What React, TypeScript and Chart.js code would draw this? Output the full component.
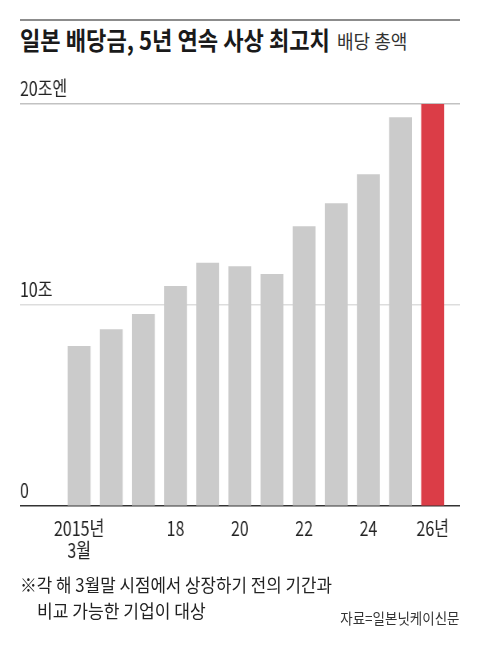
import React, { useEffect, useRef } from 'react';
import { Chart, registerables } from 'chart.js';

Chart.register(...registerables);

// ---- data ----
const years = ['2015', '2016', '2017', '2018', '2019', '2020', '2021', '2022', '2023', '2024', '2025', '2026'];
const dividends = [7.95, 8.78, 9.53, 10.93, 12.09, 11.91, 11.53, 13.9, 15.04, 16.49, 19.32, 20.0];
const xTickLabels: (string | string[])[] = [['2015년', '3월'], '', '', '18', '', '20', '', '22', '', '24', '', '26년'];
const yTickValues = [0, 10, 20];
const yTickLabels = ['0', '10조', '20조엔'];
const highlightYear = '2026';

const FONT = "'Noto Sans CJK KR', sans-serif";
const SX = 0.8;

export default function App() {
  const ref = useRef<HTMLCanvasElement>(null);

  useEffect(() => {
    const chart = new Chart(ref.current as HTMLCanvasElement, {
      type: 'bar',
      data: {
        datasets: [
          {
            data: years.map((_, i) => ({ x: i, y: dividends[i] })),
            backgroundColor: years.map((y) => (y === highlightYear ? '#db3d47' : '#cbcbcb')),
            barThickness: 28,
          } as any,
        ],
      },
      options: {
        animation: false,
        responsive: true,
        maintainAspectRatio: false,
        layout: { padding: { top: 44, bottom: 8, left: 0, right: 0 } },
        plugins: { legend: { display: false }, tooltip: { enabled: false } },
        scales: {
          x: {
            type: 'linear',
            min: -1.84,
            max: 11.85,
            offset: false,
            z: 1,
            grid: { display: false, drawTicks: false },
            border: { display: true, color: '#333333', width: 1.5 },
            afterBuildTicks: (s: any) => {
              s.ticks = years.map((_, i) => ({ value: i }));
            },
            ticks: {
              autoSkip: false,
              maxRotation: 0,
              padding: 11,
              color: '#222222',
              font: { family: FONT, size: 20, lineHeight: 1.1 },
              callback: (v: any) => xTickLabels[v as number] ?? '',
            },
          },
          y: {
            min: 0,
            max: 20,
            afterBuildTicks: (s: any) => {
              s.ticks = yTickValues.map((v) => ({ value: v }));
            },
            grid: {
              drawTicks: false,
              lineWidth: 1.5,
              color: (ctx: any) =>
                ctx.tick.value === 20 ? '#c2c2c2' : ctx.tick.value === 10 ? '#dddddd' : 'rgba(0,0,0,0)',
            },
            border: { display: false },
            ticks: {
              mirror: true,
              padding: 0,
              labelOffset: -16,
              color: '#222222',
              font: { family: FONT, size: 20 },
              callback: (v: any) => yTickLabels[yTickValues.indexOf(v as number)] ?? '',
            },
          },
        },
      } as any,
    });
    return () => chart.destroy();
  }, []);

  const base: React.CSSProperties = {
    position: 'absolute',
    fontFamily: FONT,
    whiteSpace: 'nowrap',
    margin: 0,
  };

  return (
    <div style={{ position: 'absolute', left: 0, top: 0, width: 480, height: 653, background: '#fff', overflow: 'hidden' }}>
      <div style={{ position: 'absolute', left: 20, top: 19, width: 440, height: 2, background: '#8c8c8c' }} />
      <div
        style={{
          ...base,
          left: 20,
          top: 27,
          fontSize: 25,
          lineHeight: '25px',
          fontWeight: 700,
          color: '#1a1a1a',
          transform: 'scaleX(0.885)',
          transformOrigin: '0 0',
        }}
      >
        일본 배당금, 5년 연속 사상 최고치
      </div>
      <div
        style={{
          ...base,
          left: 337,
          top: 31,
          fontSize: 19,
          lineHeight: '19px',
          color: '#333',
          transform: 'scaleX(0.95)',
          transformOrigin: '0 0',
        }}
      >
        배당 총액
      </div>
      <div
        style={{
          position: 'absolute',
          left: 20,
          top: 60,
          width: 550,
          height: 520,
          transform: `scaleX(${SX})`,
          transformOrigin: '0 0',
        }}
      >
        <canvas ref={ref} />
      </div>
      <div
        style={{
          ...base,
          left: 20,
          top: 575,
          fontSize: 18,
          lineHeight: '18px',
          color: '#222',
          transform: 'scaleX(0.935)',
          transformOrigin: '0 0',
        }}
      >
        ※각 해 3월말 시점에서 상장하기 전의 기간과
      </div>
      <div
        style={{
          ...base,
          left: 37,
          top: 601,
          fontSize: 18,
          lineHeight: '18px',
          color: '#222',
          transform: 'scaleX(0.95)',
          transformOrigin: '0 0',
        }}
      >
        비교 가능한 기업이 대상
      </div>
      <div
        style={{
          ...base,
          right: 20,
          top: 610,
          fontSize: 15,
          lineHeight: '15px',
          color: '#333',
          transform: 'scaleX(0.9)',
          transformOrigin: '100% 0',
        }}
      >
        자료=일본닛케이신문
      </div>
    </div>
  );
}
